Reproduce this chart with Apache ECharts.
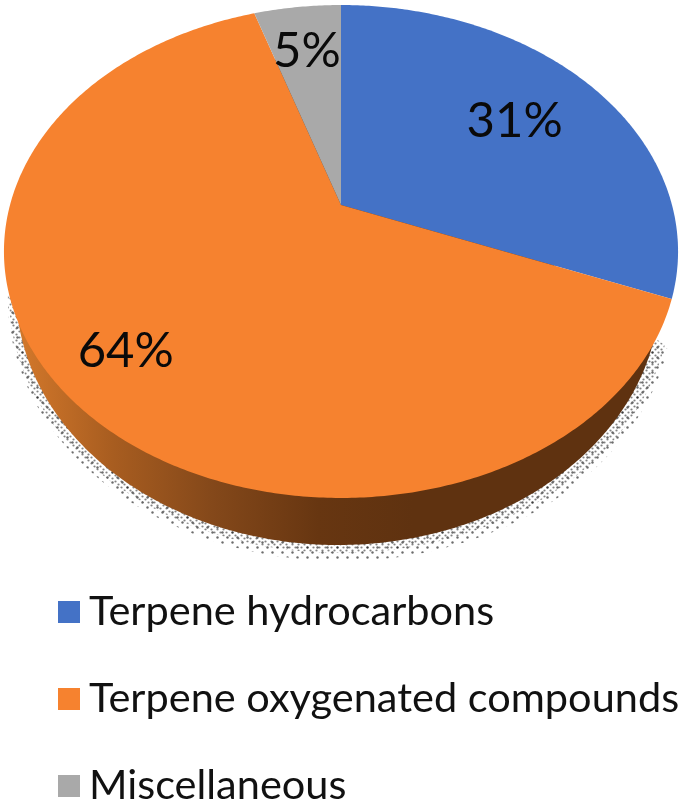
<!DOCTYPE html>
<html><head><meta charset="utf-8">
<style>html,body{margin:0;padding:0;background:#fff}#c{width:685px;height:804px;filter:blur(0.6px)}</style>
<script src="https://cdn.jsdelivr.net/npm/echarts@6/dist/echarts.min.js"></script>
</head><body><div id="c"></div>
<script>
const categories = ['Terpene hydrocarbons', 'Terpene oxygenated compounds', 'Miscellaneous'];
const values = [31, 64, 5];
const colors = ['#4472C6', '#F6822F', '#A9A9A9'];
const labelRadius = [0.68, 0.8, 0.75];

const total = values.reduce((a, b) => a + b, 0);
const starts = values.map((_, i) => values.slice(0, i).reduce((a, b) => a + b, 0));
// perspective disc: unit circle -> screen
const AX = 341, AY = 205, A = 331, B = 237.7, K = -0.1886;
function project(angle, r) {
  const u = r * Math.sin(angle), v = -r * Math.cos(angle), d = 1 + K * v;
  return [AX + A * u / d, AY + B * v / d];
}
function ang(v) { return v / total * Math.PI * 2; }
function arc(a0, a1) {
  const n = Math.max(2, Math.ceil((a1 - a0) / 0.01)), pts = [];
  for (let i = 0; i <= n; i++) pts.push(project(a0 + (a1 - a0) * i / n, 1));
  return pts;
}
// rim ellipses derived from the top ellipse (centre 341,251, radii 337,246)
function rim(pts, cx, cy, sx, sy) {
  return pts.map(p => [cx + (p[0] - 341) * sx, cy + (p[1] - 251) * sy]);
}
function dots(size, r, alpha) {
  const cv = document.createElement('canvas'); cv.width = cv.height = size;
  const g = cv.getContext('2d'); g.fillStyle = 'rgba(10,10,10,' + alpha + ')';
  [[size / 4, size / 4], [3 * size / 4, 3 * size / 4]].forEach(p => {
    g.beginPath(); g.arc(p[0], p[1], r, 0, 7); g.fill();
  });
  return cv;
}
const orangeA0 = ang(starts[1]), orangeA1 = ang(starts[1] + values[1]);

const sliceSeries = categories.map((name, i) => ({
  name, type: 'custom', coordinateSystem: 'none', silent: true, animation: false, z: 5,
  itemStyle: { color: colors[i] },
  data: [values[i]],
  renderItem(params, api) {
    const v = api.value(0), a0 = ang(starts[i]), a1 = a0 + ang(v);
    const lp = project((a0 + a1) / 2, labelRadius[i]);
    return { type: 'group', children: [
      { type: 'polygon', shape: { points: [[AX, AY]].concat(arc(a0, a1)) }, style: { fill: colors[i] } },
      { type: 'text', z2: 10, style: { x: lp[0], y: lp[1] + 1, text: v + '%', fill: '#0a0a0a',
        font: '49px Lato', textAlign: 'center', textVerticalAlign: 'middle' } }
    ] };
  }
}));

function rimSeries(name, z, scale, cx, cy, fill) {
  return { name, type: 'custom', coordinateSystem: 'none', silent: true, animation: false, z,
    data: [values[1]],
    renderItem() {
      return { type: 'polygon', shape: { points: rim(arc(orangeA0, orangeA1), cx, cy, scale[0], scale[1]) }, style: { fill } };
    } };
}
const sideFill = { type: 'linear', x: 25, y: 0, x2: 650, y2: 0, global: true, colorStops: [
  { offset: 0, color: '#D0762A' }, { offset: 0.14, color: '#A85D20' }, { offset: 0.3, color: '#84481A' },
  { offset: 0.47, color: '#673611' }, { offset: 0.62, color: '#5F3210' }, { offset: 1, color: '#5F3210' } ] };

const chart = echarts.init(document.getElementById('c'), null, { renderer: 'canvas' });
chart.setOption({
  backgroundColor: '#fff',
  legend: {
    orient: 'vertical', left: 58, top: 591, height: 240, padding: 0, itemWidth: 22, itemHeight: 22, itemGap: 45,
    icon: 'rect', selectedMode: false, data: categories,
    textStyle: { fontFamily: 'Lato', fontSize: 41.5, color: '#111', padding: [0, 0, 0, 4] }
  },
  series: [
    rimSeries('shadowOuter', 1, [333 / 337, 262 / 246], 341, 298, { image: dots(10, 1.2, 0.6), repeat: 'repeat' }),
    rimSeries('shadowInner', 2, [331 / 337, 257 / 246], 340, 295, { image: dots(6, 1.1, 0.5), repeat: 'repeat' }),
    rimSeries('side', 3, [322 / 337, 254 / 246], 338, 290, sideFill)
  ].concat(sliceSeries)
});
</script></body></html>
